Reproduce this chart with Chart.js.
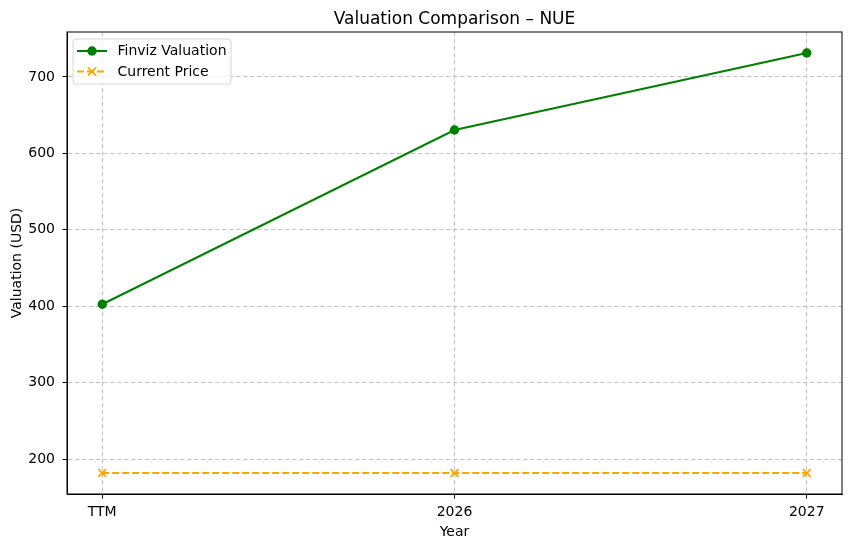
<!DOCTYPE html>
<html><head><meta charset="utf-8">
<script src="https://cdn.jsdelivr.net/npm/chart.js@4/dist/chart.umd.min.js"></script>
<style>html,body{margin:0;padding:0;background:#fff;overflow:hidden}#wrap{width:850px;height:547px}</style>
</head><body><div id="wrap"><canvas id="c" width="850" height="547"></canvas></div>
<script>
const categories = ['TTM', '2026', '2027'];
const finvizValuation = [402.5, 630.5, 731.3];
const currentPrice = [181.7, 181.7, 181.7];
const yTickValues = [200, 300, 400, 500, 600, 700];
const chartTitle = 'Valuation Comparison – NUE';
const xTitle = 'Year';
const yTitle = 'Valuation (USD)';

const FONT = 'DejaVu Sans';
const TICK = 14;

const overlay = {
  id: 'overlay',
  afterDraw(chart) {
    const ctx = chart.ctx, a = chart.chartArea;
    ctx.save();
    ctx.strokeStyle = '#000'; ctx.lineWidth = 1;
    ctx.strokeRect(a.left, a.top, a.right - a.left, a.bottom - a.top);
    ctx.fillStyle = '#000';
    ctx.font = '17px "' + FONT + '"';
    ctx.textAlign = 'center'; ctx.textBaseline = 'alphabetic';
    ctx.fillText(chartTitle, (a.left + a.right) / 2, 24);
    const bx = a.left + 6, by = a.top + 7, bw = 158, bh = 45, r = 3;
    ctx.beginPath();
    ctx.moveTo(bx + r, by); ctx.lineTo(bx + bw - r, by); ctx.quadraticCurveTo(bx + bw, by, bx + bw, by + r);
    ctx.lineTo(bx + bw, by + bh - r); ctx.quadraticCurveTo(bx + bw, by + bh, bx + bw - r, by + bh);
    ctx.lineTo(bx + r, by + bh); ctx.quadraticCurveTo(bx, by + bh, bx, by + bh - r);
    ctx.lineTo(bx, by + r); ctx.quadraticCurveTo(bx, by, bx + r, by);
    ctx.closePath();
    ctx.fillStyle = 'rgba(255,255,255,0.8)'; ctx.fill();
    ctx.strokeStyle = '#d6d6d6'; ctx.lineWidth = 1; ctx.stroke();
    const rows = [a.top + 19, a.top + 39.5];
    chart.data.datasets.forEach((ds, i) => {
      const y = rows[i];
      ctx.strokeStyle = ds.borderColor; ctx.lineWidth = ds.borderWidth;
      ctx.setLineDash(ds.borderDash || []);
      ctx.beginPath(); ctx.moveTo(a.left + 10, y); ctx.lineTo(a.left + 40, y); ctx.stroke();
      ctx.setLineDash([]);
      const mx = a.left + 25;
      if (ds.pointStyle === 'circle') {
        ctx.fillStyle = ds.pointBackgroundColor;
        ctx.beginPath(); ctx.arc(mx, y, ds.pointRadius, 0, Math.PI * 2); ctx.fill();
      } else {
        const s = ds.pointRadius * 0.75;
        ctx.strokeStyle = ds.pointBorderColor; ctx.lineWidth = ds.pointBorderWidth;
        ctx.beginPath(); ctx.moveTo(mx - s, y - s); ctx.lineTo(mx + s, y + s);
        ctx.moveTo(mx - s, y + s); ctx.lineTo(mx + s, y - s); ctx.stroke();
      }
      ctx.fillStyle = '#000';
      ctx.font = TICK + 'px "' + FONT + '"';
      ctx.textAlign = 'left'; ctx.textBaseline = 'middle';
      ctx.fillText(ds.label, a.left + 50.5, y + 0.5);
    });
    ctx.restore();
  }
};

new Chart(document.getElementById('c'), {
  type: 'line',
  data: {
    datasets: [
      {
        label: 'Finviz Valuation',
        data: finvizValuation.map((v, i) => ({ x: i, y: v })),
        borderColor: '#008000', backgroundColor: '#008000',
        borderWidth: 2, pointStyle: 'circle', pointRadius: 4.7,
        pointBackgroundColor: '#008000', pointBorderColor: '#008000', pointBorderWidth: 0,
        tension: 0
      },
      {
        label: 'Current Price',
        data: currentPrice.map((v, i) => ({ x: i, y: v })),
        borderColor: '#FFA500', backgroundColor: '#FFA500',
        borderWidth: 2, borderDash: [7, 3], pointStyle: 'crossRot', pointRadius: 5.5,
        pointBackgroundColor: '#FFA500', pointBorderColor: '#FFA500', pointBorderWidth: 1.8,
        tension: 0
      }
    ]
  },
  options: {
    responsive: false, animation: false,
    layout: { padding: { top: 32, right: 8, left: 0, bottom: 0 } },
    plugins: { legend: { display: false }, title: { display: false }, tooltip: { enabled: false } },
    scales: {
      x: {
        type: 'linear', min: -0.1, max: 2.1,
        afterBuildTicks: s => { s.ticks = categories.map((_, i) => ({ value: i })); },
        afterFit: s => { s.height = 53; },
        ticks: { callback: v => categories[v], color: '#000', font: { family: FONT, size: TICK }, padding: 5.5, maxRotation: 0, autoSkip: false },
        grid: { color: '#c4c4c4', lineWidth: 1, tickColor: '#000', tickLength: 4.5, tickWidth: 1 },
        border: { display: true, color: '#000', width: 1, dash: [4.5, 2.5] },
        title: { display: true, text: xTitle, color: '#000', font: { family: FONT, size: TICK }, padding: { top: 0, bottom: 6.5 } }
      },
      y: {
        type: 'linear', min: 154.2, max: 758.8,
        afterBuildTicks: s => { s.ticks = yTickValues.map(v => ({ value: v })); },
        afterFit: s => { s.width = 67; },
        ticks: { color: '#000', font: { family: FONT, size: TICK }, padding: 7.5 },
        grid: { color: '#c4c4c4', lineWidth: 1, tickColor: '#000', tickLength: 4.5, tickWidth: 1 },
        border: { display: true, color: '#000', width: 1, dash: [4.5, 2.5] },
        title: { display: true, text: yTitle, color: '#000', font: { family: FONT, size: TICK }, padding: { top: 9, bottom: 0 } }
      }
    }
  },
  plugins: [overlay]
});
</script></body></html>
